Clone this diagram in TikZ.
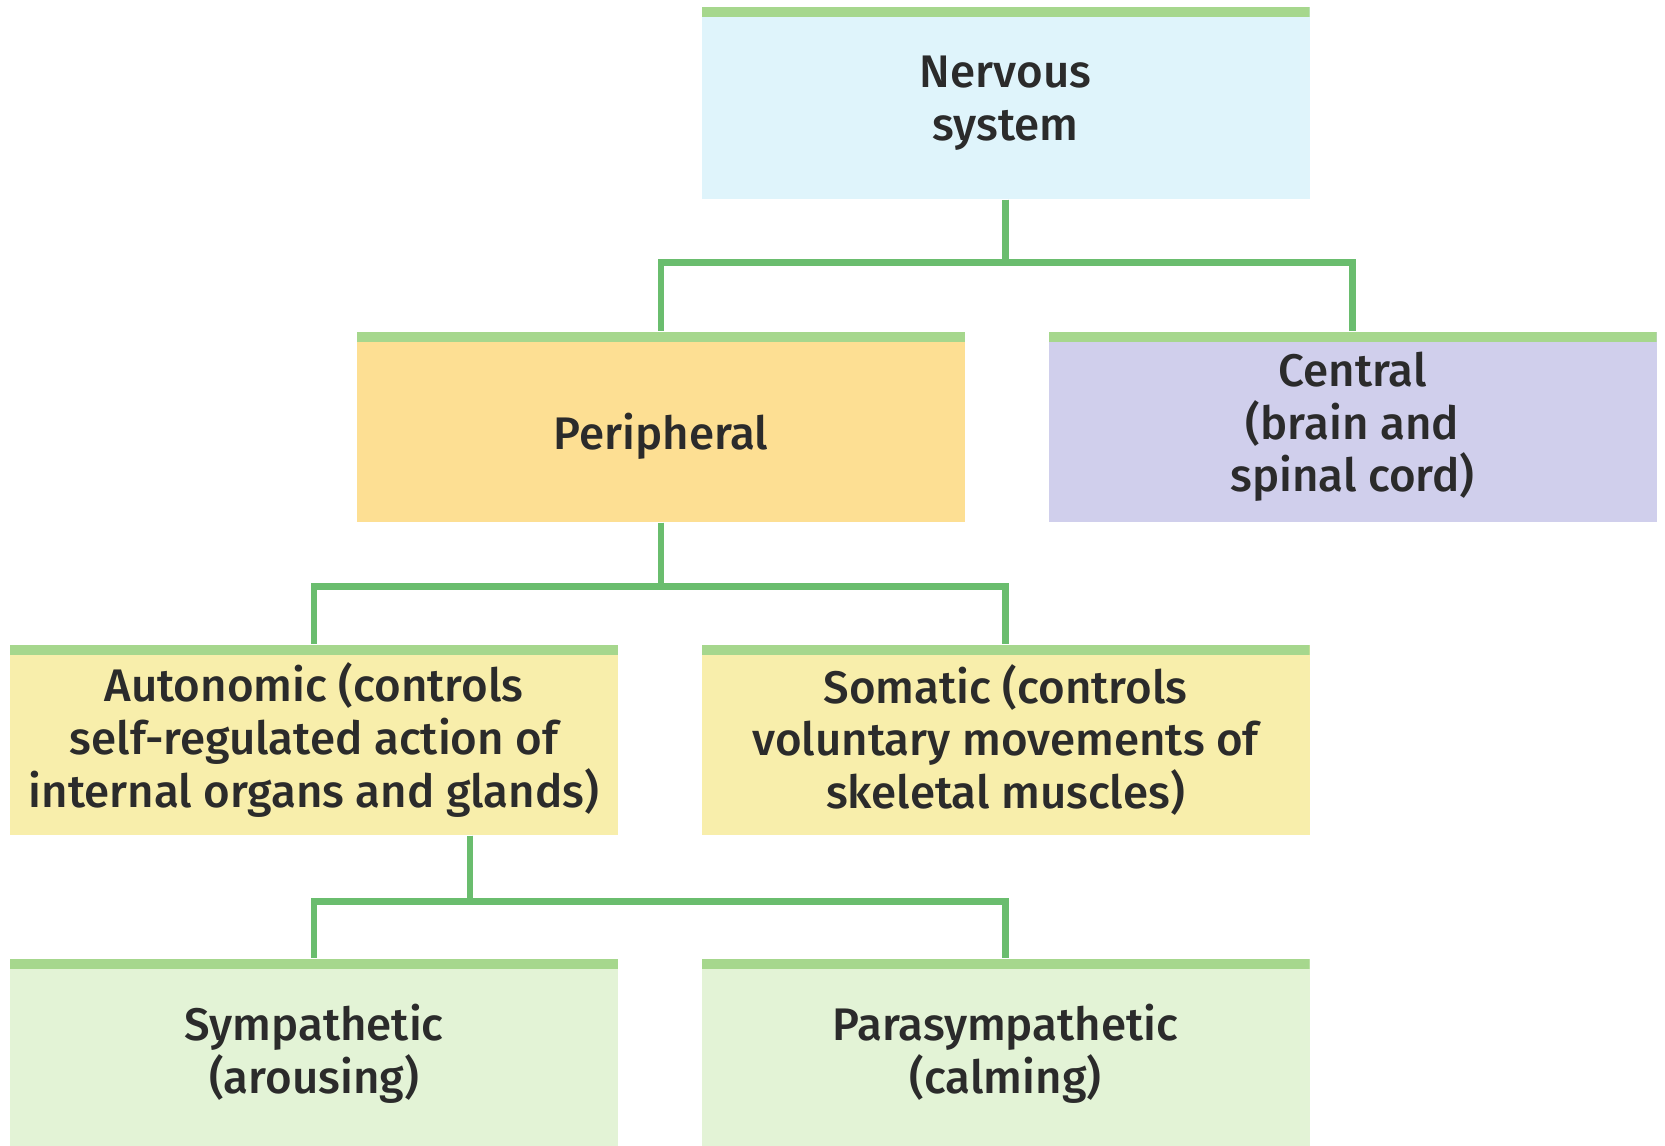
\documentclass[tikz,border=0pt]{standalone}
\usepackage{fontspec}
\setmainfont{Fira Sans}[UprightFont={* Medium}]
\usetikzlibrary{positioning}
\definecolor{bargreen}{HTML}{A6D78D}
\definecolor{linkgreen}{HTML}{6ABD6E}
\definecolor{nervfill}{HTML}{DFF4FB}
\definecolor{periphfill}{HTML}{FDDF93}
\definecolor{centralfill}{HTML}{D0CFEC}
\definecolor{divfill}{HTML}{F8EEAB}
\definecolor{branchfill}{HTML}{E3F3D6}
\definecolor{labelgray}{HTML}{2B2B2B}
\tikzset{unit/.style=
  {minimum width=6.08cm, minimum height=1.9cm, inner sep=0pt, align=center,
   text=labelgray, font=\fontsize{13}{15}\selectfont,
   path picture={\fill[bargreen] (path picture bounding box.north west)
     rectangle ([yshift=-0.1cm]path picture bounding box.north east);}
}}
\tikzset{link/.style={linkgreen, line width=0.065cm}}

\begin{document}
\begin{tikzpicture}
\useasboundingbox (0,0) rectangle (16.65,11.45);
\def\W{6.08}\def\H{1.9}
\node[unit, fill=nervfill, minimum height=1.92cm] (nerv) at (10.055,10.42) {Nervous\\system};
\node[unit, fill=periphfill, text height=0.54cm] (periph) at (6.61,7.18) {Peripheral};
\node[unit, fill=centralfill] (central) at (13.525,7.18) {Central\\(brain and\\spinal cord)};
\node[unit, fill=divfill] (auto) at (3.14,4.05) {Autonomic (controls\\self-regulated action of\\internal organs and glands)};
\node[unit, fill=divfill] (soma) at (10.055,4.05) {Somatic (controls\\voluntary movements of\\skeletal muscles)};
\node[unit, fill=branchfill] (symp) at (3.14,0.91) {Sympathetic\\(arousing)};
\node[unit, fill=branchfill] (para) at (10.055,0.91) {Parasympathetic\\(calming)};
% tree links
\draw[link] (nerv.south) -- ++(0,-0.63) -| (periph.north);
\draw[link] (nerv.south) -- ++(0,-0.63) -| (central.north);
\draw[link] (periph.south) -- ++(0,-0.64) -| (auto.north);
\draw[link] (periph.south) -- ++(0,-0.64) -| (soma.north);
\coordinate (autofoot) at ([xshift=1.56cm]auto.south);
\draw[link] (autofoot) -- ++(0,-0.66) -| (symp.north);
\draw[link] (autofoot) -- ++(0,-0.66) -| (para.north);
\end{tikzpicture}
\end{document}
